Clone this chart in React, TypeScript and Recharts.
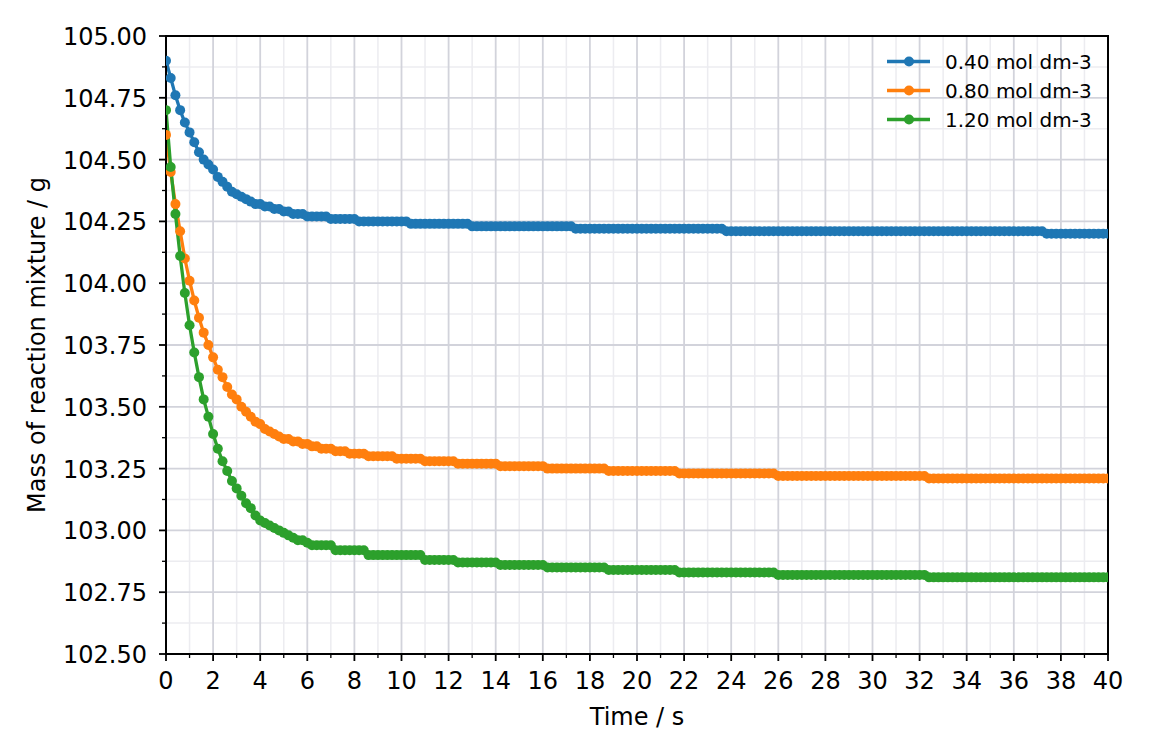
import React from 'react';
import { LineChart, Line, XAxis, YAxis, CartesianGrid, ReferenceArea, Legend } from 'recharts';

const TIME = [
  0, 0.2, 0.4, 0.6, 0.8, 1, 1.2, 1.4, 1.6, 1.8,
  2, 2.2, 2.4, 2.6, 2.8, 3, 3.2, 3.4, 3.6, 3.8,
  4, 4.2, 4.4, 4.6, 4.8, 5, 5.2, 5.4, 5.6, 5.8,
  6, 6.2, 6.4, 6.6, 6.8, 7, 7.2, 7.4, 7.6, 7.8,
  8, 8.2, 8.4, 8.6, 8.8, 9, 9.2, 9.4, 9.6, 9.8,
  10, 10.2, 10.4, 10.6, 10.8, 11, 11.2, 11.4, 11.6, 11.8,
  12, 12.2, 12.4, 12.6, 12.8, 13, 13.2, 13.4, 13.6, 13.8,
  14, 14.2, 14.4, 14.6, 14.8, 15, 15.2, 15.4, 15.6, 15.8,
  16, 16.2, 16.4, 16.6, 16.8, 17, 17.2, 17.4, 17.6, 17.8,
  18, 18.2, 18.4, 18.6, 18.8, 19, 19.2, 19.4, 19.6, 19.8,
  20, 20.2, 20.4, 20.6, 20.8, 21, 21.2, 21.4, 21.6, 21.8,
  22, 22.2, 22.4, 22.6, 22.8, 23, 23.2, 23.4, 23.6, 23.8,
  24, 24.2, 24.4, 24.6, 24.8, 25, 25.2, 25.4, 25.6, 25.8,
  26, 26.2, 26.4, 26.6, 26.8, 27, 27.2, 27.4, 27.6, 27.8,
  28, 28.2, 28.4, 28.6, 28.8, 29, 29.2, 29.4, 29.6, 29.8,
  30, 30.2, 30.4, 30.6, 30.8, 31, 31.2, 31.4, 31.6, 31.8,
  32, 32.2, 32.4, 32.6, 32.8, 33, 33.2, 33.4, 33.6, 33.8,
  34, 34.2, 34.4, 34.6, 34.8, 35, 35.2, 35.4, 35.6, 35.8,
  36, 36.2, 36.4, 36.6, 36.8, 37, 37.2, 37.4, 37.6, 37.8,
  38, 38.2, 38.4, 38.6, 38.8, 39, 39.2, 39.4, 39.6, 39.8,
  40,
];

const MASS_040 = [
  104.90, 104.83, 104.76, 104.70, 104.65, 104.61, 104.57, 104.53, 104.50, 104.48,
  104.46, 104.43, 104.41, 104.39, 104.37, 104.36, 104.35, 104.34, 104.33, 104.32,
  104.32, 104.31, 104.31, 104.30, 104.30, 104.29, 104.29, 104.28, 104.28, 104.28,
  104.27, 104.27, 104.27, 104.27, 104.27, 104.26, 104.26, 104.26, 104.26, 104.26,
  104.26, 104.25, 104.25, 104.25, 104.25, 104.25, 104.25, 104.25, 104.25, 104.25,
  104.25, 104.25, 104.24, 104.24, 104.24, 104.24, 104.24, 104.24, 104.24, 104.24,
  104.24, 104.24, 104.24, 104.24, 104.24, 104.23, 104.23, 104.23, 104.23, 104.23,
  104.23, 104.23, 104.23, 104.23, 104.23, 104.23, 104.23, 104.23, 104.23, 104.23,
  104.23, 104.23, 104.23, 104.23, 104.23, 104.23, 104.23, 104.22, 104.22, 104.22,
  104.22, 104.22, 104.22, 104.22, 104.22, 104.22, 104.22, 104.22, 104.22, 104.22,
  104.22, 104.22, 104.22, 104.22, 104.22, 104.22, 104.22, 104.22, 104.22, 104.22,
  104.22, 104.22, 104.22, 104.22, 104.22, 104.22, 104.22, 104.22, 104.22, 104.21,
  104.21, 104.21, 104.21, 104.21, 104.21, 104.21, 104.21, 104.21, 104.21, 104.21,
  104.21, 104.21, 104.21, 104.21, 104.21, 104.21, 104.21, 104.21, 104.21, 104.21,
  104.21, 104.21, 104.21, 104.21, 104.21, 104.21, 104.21, 104.21, 104.21, 104.21,
  104.21, 104.21, 104.21, 104.21, 104.21, 104.21, 104.21, 104.21, 104.21, 104.21,
  104.21, 104.21, 104.21, 104.21, 104.21, 104.21, 104.21, 104.21, 104.21, 104.21,
  104.21, 104.21, 104.21, 104.21, 104.21, 104.21, 104.21, 104.21, 104.21, 104.21,
  104.21, 104.21, 104.21, 104.21, 104.21, 104.21, 104.21, 104.20, 104.20, 104.20,
  104.20, 104.20, 104.20, 104.20, 104.20, 104.20, 104.20, 104.20, 104.20, 104.20,
  104.20,
];

const MASS_080 = [
  104.60, 104.45, 104.32, 104.21, 104.10, 104.01, 103.93, 103.86, 103.80, 103.75,
  103.70, 103.65, 103.62, 103.58, 103.55, 103.53, 103.50, 103.48, 103.46, 103.44,
  103.43, 103.41, 103.40, 103.39, 103.38, 103.37, 103.37, 103.36, 103.36, 103.35,
  103.35, 103.34, 103.34, 103.33, 103.33, 103.33, 103.32, 103.32, 103.32, 103.31,
  103.31, 103.31, 103.31, 103.30, 103.30, 103.30, 103.30, 103.30, 103.30, 103.29,
  103.29, 103.29, 103.29, 103.29, 103.29, 103.28, 103.28, 103.28, 103.28, 103.28,
  103.28, 103.28, 103.27, 103.27, 103.27, 103.27, 103.27, 103.27, 103.27, 103.27,
  103.27, 103.26, 103.26, 103.26, 103.26, 103.26, 103.26, 103.26, 103.26, 103.26,
  103.26, 103.25, 103.25, 103.25, 103.25, 103.25, 103.25, 103.25, 103.25, 103.25,
  103.25, 103.25, 103.25, 103.25, 103.24, 103.24, 103.24, 103.24, 103.24, 103.24,
  103.24, 103.24, 103.24, 103.24, 103.24, 103.24, 103.24, 103.24, 103.24, 103.23,
  103.23, 103.23, 103.23, 103.23, 103.23, 103.23, 103.23, 103.23, 103.23, 103.23,
  103.23, 103.23, 103.23, 103.23, 103.23, 103.23, 103.23, 103.23, 103.23, 103.23,
  103.22, 103.22, 103.22, 103.22, 103.22, 103.22, 103.22, 103.22, 103.22, 103.22,
  103.22, 103.22, 103.22, 103.22, 103.22, 103.22, 103.22, 103.22, 103.22, 103.22,
  103.22, 103.22, 103.22, 103.22, 103.22, 103.22, 103.22, 103.22, 103.22, 103.22,
  103.22, 103.22, 103.21, 103.21, 103.21, 103.21, 103.21, 103.21, 103.21, 103.21,
  103.21, 103.21, 103.21, 103.21, 103.21, 103.21, 103.21, 103.21, 103.21, 103.21,
  103.21, 103.21, 103.21, 103.21, 103.21, 103.21, 103.21, 103.21, 103.21, 103.21,
  103.21, 103.21, 103.21, 103.21, 103.21, 103.21, 103.21, 103.21, 103.21, 103.21,
  103.21,
];

const MASS_120 = [
  104.70, 104.47, 104.28, 104.11, 103.96, 103.83, 103.72, 103.62, 103.53, 103.46,
  103.39, 103.33, 103.28, 103.24, 103.20, 103.17, 103.14, 103.11, 103.09, 103.06,
  103.04, 103.03, 103.02, 103.01, 103.00, 102.99, 102.98, 102.97, 102.96, 102.96,
  102.95, 102.94, 102.94, 102.94, 102.94, 102.94, 102.92, 102.92, 102.92, 102.92,
  102.92, 102.92, 102.92, 102.90, 102.90, 102.90, 102.90, 102.90, 102.90, 102.90,
  102.90, 102.90, 102.90, 102.90, 102.90, 102.88, 102.88, 102.88, 102.88, 102.88,
  102.88, 102.88, 102.87, 102.87, 102.87, 102.87, 102.87, 102.87, 102.87, 102.87,
  102.87, 102.86, 102.86, 102.86, 102.86, 102.86, 102.86, 102.86, 102.86, 102.86,
  102.86, 102.85, 102.85, 102.85, 102.85, 102.85, 102.85, 102.85, 102.85, 102.85,
  102.85, 102.85, 102.85, 102.85, 102.84, 102.84, 102.84, 102.84, 102.84, 102.84,
  102.84, 102.84, 102.84, 102.84, 102.84, 102.84, 102.84, 102.84, 102.84, 102.83,
  102.83, 102.83, 102.83, 102.83, 102.83, 102.83, 102.83, 102.83, 102.83, 102.83,
  102.83, 102.83, 102.83, 102.83, 102.83, 102.83, 102.83, 102.83, 102.83, 102.83,
  102.82, 102.82, 102.82, 102.82, 102.82, 102.82, 102.82, 102.82, 102.82, 102.82,
  102.82, 102.82, 102.82, 102.82, 102.82, 102.82, 102.82, 102.82, 102.82, 102.82,
  102.82, 102.82, 102.82, 102.82, 102.82, 102.82, 102.82, 102.82, 102.82, 102.82,
  102.82, 102.82, 102.81, 102.81, 102.81, 102.81, 102.81, 102.81, 102.81, 102.81,
  102.81, 102.81, 102.81, 102.81, 102.81, 102.81, 102.81, 102.81, 102.81, 102.81,
  102.81, 102.81, 102.81, 102.81, 102.81, 102.81, 102.81, 102.81, 102.81, 102.81,
  102.81, 102.81, 102.81, 102.81, 102.81, 102.81, 102.81, 102.81, 102.81, 102.81,
  102.81,
];

const SERIES_NAMES = ['0.40 mol dm-3', '0.80 mol dm-3', '1.20 mol dm-3'];
const SERIES_COLORS = ['#1f77b4', '#ff7f0e', '#2ca02c'];

const X_TICKS = [
  0, 1, 2, 3, 4, 5, 6, 7, 8, 9, 10, 11, 12, 13, 14, 15, 16, 17, 18, 19, 20,
  21, 22, 23, 24, 25, 26, 27, 28, 29, 30, 31, 32, 33, 34, 35, 36, 37, 38, 39, 40,
];
const X_MAJOR = [0, 2, 4, 6, 8, 10, 12, 14, 16, 18, 20, 22, 24, 26, 28, 30, 32, 34, 36, 38, 40];
const X_MINOR = [1, 3, 5, 7, 9, 11, 13, 15, 17, 19, 21, 23, 25, 27, 29, 31, 33, 35, 37, 39];

const Y_TICKS = [
  102.5, 102.625, 102.75, 102.875, 103, 103.125, 103.25, 103.375, 103.5, 103.625,
  103.75, 103.875, 104, 104.125, 104.25, 104.375, 104.5, 104.625, 104.75, 104.875, 105,
];
const Y_MAJOR = [102.5, 102.75, 103, 103.25, 103.5, 103.75, 104, 104.25, 104.5, 104.75, 105];
const Y_MINOR = [102.625, 102.875, 103.125, 103.375, 103.625, 103.875, 104.125, 104.375, 104.625, 104.875];

const rows = TIME.map((t, i) => ({
  t,
  s1: MASS_040[i],
  s2: MASS_080[i],
  s3: MASS_120[i],
}));

const FONT = 'DejaVu Sans';
const TICK_FONT = 24;

const XTick = (props: any) => {
  const { x, y, payload } = props;
  const v = payload.value;
  const major = X_MAJOR.includes(v);
  return (
    <g>
      <line x1={x} x2={x} y1={y} y2={y + (major ? 7 : 4)} stroke="#000" strokeWidth={major ? 1.8 : 1.3} />
      {major && (
        <text x={x} y={y + 35} textAnchor="middle" fontFamily={FONT} fontSize={TICK_FONT} fill="#000">
          {v}
        </text>
      )}
    </g>
  );
};

const YTick = (props: any) => {
  const { x, y, payload } = props;
  const v = payload.value;
  const major = Y_MAJOR.includes(v);
  return (
    <g>
      <line x1={x} x2={x - (major ? 7 : 4)} y1={y} y2={y} stroke="#000" strokeWidth={major ? 1.8 : 1.3} />
      {major && (
        <text x={x - 19} y={y + 9} textAnchor="end" fontFamily={FONT} fontSize={TICK_FONT} fill="#000">
          {v.toFixed(2)}
        </text>
      )}
    </g>
  );
};

const XLabel = (props: any) => {
  const vb = props.viewBox;
  return (
    <text x={vb.x + vb.width / 2} y={vb.y + 71} textAnchor="middle" fontFamily={FONT} fontSize={TICK_FONT} fill="#000">
      Time / s
    </text>
  );
};

const YLabel = (props: any) => {
  const vb = props.viewBox;
  const cx = vb.x + 37;
  const cy = vb.y + vb.height / 2;
  return (
    <text
      x={cx}
      y={cy}
      transform={`rotate(-90, ${cx}, ${cy})`}
      textAnchor="middle"
      fontFamily={FONT}
      fontSize={TICK_FONT}
      fill="#000"
    >
      Mass of reaction mixture / g
    </text>
  );
};

const LegendContent = () => (
  <div style={{ fontFamily: FONT, fontSize: 20, color: '#000' }}>
    {SERIES_NAMES.map((name, i) => (
      <div key={name} style={{ display: 'flex', alignItems: 'center', height: 29 }}>
        <svg width={60} height={29} style={{ display: 'block' }}>
          <line x1={2} x2={45} y1={14.5} y2={14.5} stroke={SERIES_COLORS[i]} strokeWidth={3.3} />
          <circle cx={24} cy={14.5} r={5} fill={SERIES_COLORS[i]} />
        </svg>
        <span style={{ whiteSpace: 'nowrap' }}>{name}</span>
      </div>
    ))}
  </div>
);

export default function App() {
  const keys = ['s1', 's2', 's3'];
  return (
    <div style={{ width: 1144, height: 740, fontFamily: FONT }}>
      <LineChart width={1144} height={740} data={rows} margin={{ top: 28, right: 44, left: 0, bottom: 34 }}>
        <CartesianGrid
          horizontalValues={Y_MINOR}
          verticalValues={X_MINOR}
          stroke="#ececf0"
          strokeWidth={1.5}
          syncWithTicks
        />
        <CartesianGrid
          horizontalValues={Y_MAJOR}
          verticalValues={X_MAJOR}
          stroke="#d2d3db"
          strokeWidth={1.8}
          syncWithTicks
        />
        <XAxis
          dataKey="t"
          type="number"
          domain={[0, 40]}
          ticks={X_TICKS}
          interval={0}
          allowDataOverflow
          height={60}
          tickLine={false}
          tickSize={0}
          tickMargin={0}
          axisLine={{ stroke: '#000', strokeWidth: 2 }}
          tick={<XTick />}
          label={<XLabel />}
        />
        <YAxis
          type="number"
          domain={[102.5, 105]}
          ticks={Y_TICKS}
          interval={0}
          allowDataOverflow
          width={158}
          tickLine={false}
          tickSize={0}
          tickMargin={0}
          axisLine={{ stroke: '#000', strokeWidth: 2 }}
          tick={<YTick />}
          label={<YLabel />}
        />
        {keys.map((k, i) => (
          <Line
            key={k}
            type="linear"
            dataKey={k}
            name={SERIES_NAMES[i]}
            stroke={SERIES_COLORS[i]}
            strokeWidth={3.3}
            dot={{ r: 5, fill: SERIES_COLORS[i], stroke: 'none' }}
            activeDot={false}
            isAnimationActive={false}
          />
        ))}
        <ReferenceArea
          x1={0}
          x2={40}
          y1={102.5}
          y2={105}
          fill="none"
          fillOpacity={0}
          stroke="#000"
          strokeWidth={2}
          ifOverflow="visible"
        />
        <Legend
          layout="vertical"
          align="center"
          verticalAlign="middle"
          content={<LegendContent />}
          wrapperStyle={{ position: 'absolute', top: 39, left: 877, width: 'auto', height: 'auto' }}
        />
      </LineChart>
    </div>
  );
}
